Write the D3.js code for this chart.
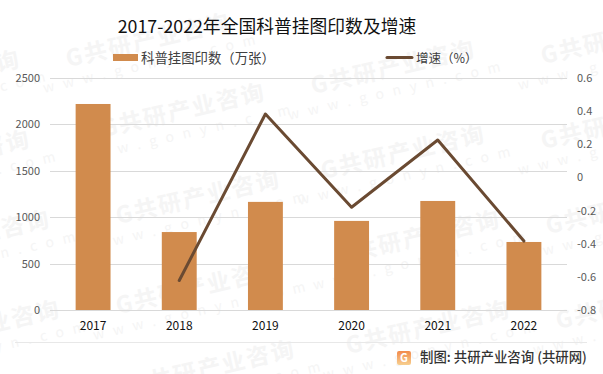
<!DOCTYPE html>
<html>
<head>
<meta charset="utf-8">
<script src="https://cdn.jsdelivr.net/npm/d3@7/dist/d3.min.js"></script>
<style>
body { margin: 0; background: #fff; }
svg { display: block; }
text { font-family: "Noto Sans CJK SC", "Noto Sans", sans-serif; }
</style>
</head>
<body>
<div id="chart"></div>
<script>
const years = ['2017', '2018', '2019', '2020', '2021', '2022'];
const prints = [2220, 840, 1165, 960, 1175, 733];
const growth = [null, -0.622, 0.383, -0.18, 0.226, -0.384];
const leftTicks = [0, 500, 1000, 1500, 2000, 2500];
const rightTicks = [-0.8, -0.6, -0.4, -0.2, 0, 0.2, 0.4, 0.6];
const titleText = '2017-2022年全国科普挂图印数及增速';
const barName = '科普挂图印数（万张）';
const lineName = '增速（%）';
const sourceText = '制图: 共研产业咨询 (共研网)';
const markCentres = [[150, 48], [-60, 85], [395, 75], [625, 45], [185, 118], [-50, 165], [405, 160], [625, 130], [200, 205], [-30, 245], [420, 245], [630, 215], [200, 295], [-20, 335], [430, 335], [640, 310], [215, 375]];

const width = 603;
const height = 374;
const marginLeft = 50;
const marginRight = 36;
const marginTop = 78;
const plotBottom = 310;
const barColor = '#d18b4d';
const lineColor = '#6a4a32';

const $svg = d3.select('#chart').append('svg')
	.attr('width', width)
	.attr('height', height);

const defs = $svg.append('defs');
const logoGrad = defs.append('linearGradient')
	.attr('id', 'logo-grad')
	.attr('x1', 0).attr('y1', 0).attr('x2', 0).attr('y2', 1);
logoGrad.append('stop').attr('offset', '0%').attr('stop-color', '#f28a4b');
logoGrad.append('stop').attr('offset', '100%').attr('stop-color', '#f7cf8f');

// watermark behind everything
const $marks = $svg.append('g').attr('class', 'g-marks');
markCentres.forEach(([x, y]) => {
	const $m = $marks.append('g').attr('transform', `translate(${x}, ${y}) rotate(-13)`);
	$m.append('text')
		.attr('text-anchor', 'middle')
		.attr('font-size', 23)
		.attr('font-weight', 700)
		.attr('letter-spacing', 2)
		.attr('fill', '#f5f5f5')
		.text('G共研产业咨询');
	$m.append('text')
		.attr('y', 20)
		.attr('text-anchor', 'middle')
		.attr('font-size', 14)
		.attr('letter-spacing', 9)
		.attr('fill', '#f5f5f5')
		.text('www.gonyn.com');
});

// scales
const scaleX = d3.scaleBand()
	.domain(years)
	.range([marginLeft, width - marginRight])
	.paddingInner(0.595)
	.paddingOuter(0.2975);
const scaleLeft = d3.scaleLinear().domain([0, 2500]).range([plotBottom, marginTop]);
const scaleRight = d3.scaleLinear().domain([-0.8, 0.6]).range([plotBottom, marginTop]);

// gridlines
$svg.append('g').attr('class', 'g-grid')
	.selectAll('line')
	.data(leftTicks)
	.join('line')
	.attr('x1', marginLeft)
	.attr('x2', width - marginRight)
	.attr('y1', d => Math.round(scaleLeft(d)) + 0.5)
	.attr('y2', d => Math.round(scaleLeft(d)) + 0.5)
	.attr('stroke', '#d9d9d9')
	.attr('stroke-width', 1);

// axes
const $leftAxis = $svg.append('g')
	.attr('transform', `translate(${marginLeft}, 0)`)
	.call(d3.axisLeft(scaleLeft).tickValues(leftTicks).tickSize(0).tickPadding(10).tickFormat(d => String(d)));
const $rightAxis = $svg.append('g')
	.attr('transform', `translate(${width - marginRight}, 0)`)
	.call(d3.axisRight(scaleRight).tickValues(rightTicks).tickSize(0).tickPadding(10).tickFormat(d => String(+d.toFixed(1))));
const $bottomAxis = $svg.append('g')
	.attr('transform', `translate(0, ${plotBottom})`)
	.call(d3.axisBottom(scaleX).tickSize(0).tickPadding(11));
[$leftAxis, $rightAxis, $bottomAxis].forEach($a => $a.select('.domain').remove());
[$leftAxis, $rightAxis].forEach($a => $a.selectAll('text')
	.attr('font-size', 11)
	.attr('font-family', '"Open Sans", sans-serif')
	.attr('fill', '#595959'));
$bottomAxis.selectAll('text')
	.attr('font-size', 12)
	.attr('font-family', '"Open Sans", sans-serif')
	.attr('fill', '#111');

// bars
$svg.append('g').attr('class', 'g-bars')
	.selectAll('rect')
	.data(prints)
	.join('rect')
	.attr('x', (d, i) => scaleX(years[i]))
	.attr('y', d => scaleLeft(d))
	.attr('width', scaleX.bandwidth())
	.attr('height', d => plotBottom - scaleLeft(d))
	.attr('fill', barColor);

// growth line starts at 2018
const line = d3.line()
	.defined(d => d !== null)
	.x((d, i) => scaleX(years[i]) + scaleX.bandwidth() / 2)
	.y(d => scaleRight(d));
$svg.append('path')
	.attr('d', line(growth))
	.attr('fill', 'none')
	.attr('stroke', lineColor)
	.attr('stroke-width', 3)
	.attr('stroke-linecap', 'round')
	.attr('stroke-linejoin', 'round');

// title
$svg.append('text')
	.attr('x', 267)
	.attr('y', 33)
	.attr('text-anchor', 'middle')
	.attr('font-size', 17.8)
	.attr('fill', '#111')
	.text(titleText);

// legend
$svg.append('rect')
	.attr('x', 113).attr('y', 54)
	.attr('width', 25).attr('height', 7)
	.attr('fill', barColor);
$svg.append('text')
	.attr('x', 141).attr('y', 63)
	.attr('font-size', 13.4)
	.attr('fill', '#404040')
	.text(barName);
$svg.append('line')
	.attr('x1', 387).attr('x2', 412)
	.attr('y1', 57.5).attr('y2', 57.5)
	.attr('stroke', lineColor)
	.attr('stroke-width', 3)
	.attr('stroke-linecap', 'round');
$svg.append('text')
	.attr('x', 416).attr('y', 63)
	.attr('font-size', 12.5)
	.attr('fill', '#404040')
	.text(lineName);

// footer
$svg.append('line')
	.attr('x1', 15).attr('x2', 587)
	.attr('y1', 342.5).attr('y2', 342.5)
	.attr('stroke', '#e8e8e8');
$svg.append('rect')
	.attr('x', 397).attr('y', 351)
	.attr('width', 14).attr('height', 14)
	.attr('rx', 2)
	.attr('fill', 'url(#logo-grad)');
$svg.append('text')
	.attr('x', 404).attr('y', 362)
	.attr('text-anchor', 'middle')
	.attr('font-size', 11)
	.attr('font-weight', 700)
	.attr('fill', '#fff')
	.text('G');
$svg.append('text')
	.attr('x', 420).attr('y', 362)
	.attr('font-size', 13.4)
	.attr('font-weight', 500)
	.attr('fill', '#333')
	.text(sourceText);
</script>
</body>
</html>
